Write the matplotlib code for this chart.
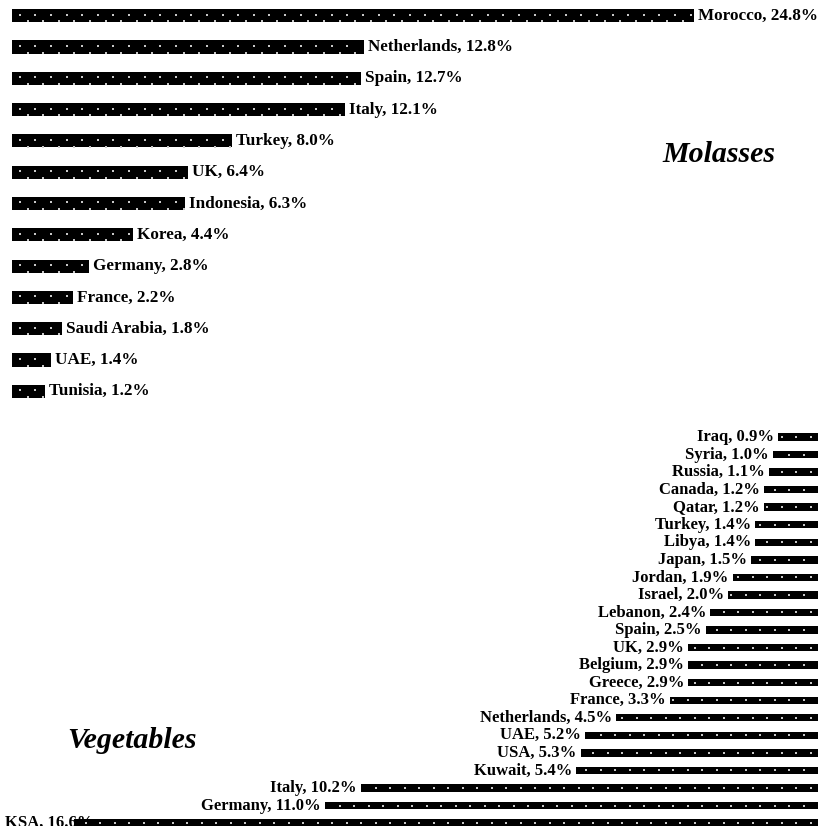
import numpy as np
import matplotlib.pyplot as plt

plt.rcParams["font.family"] = ["Liberation Serif", "DejaVu Serif"]

# molasses: top panel, bars grow to the right
mol_countries = ["Morocco", "Netherlands", "Spain", "Italy", "Turkey", "UK", "Indonesia",
                 "Korea", "Germany", "France", "Saudi Arabia", "UAE", "Tunisia"]
mol_share = [24.8, 12.8, 12.7, 12.1, 8.0, 6.4, 6.3, 4.4, 2.8, 2.2, 1.8, 1.4, 1.2]

# vegetables: bottom panel, bars grow to the left
veg_countries = ["Iraq", "Syria", "Russia", "Canada", "Qatar", "Turkey", "Libya", "Japan",
                 "Jordan", "Israel", "Lebanon", "Spain", "UK", "Belgium", "Greece", "France",
                 "Netherlands", "UAE", "USA", "Kuwait", "Italy", "Germany", "KSA"]
veg_share = [0.9, 1.0, 1.1, 1.2, 1.2, 1.4, 1.4, 1.5, 1.9, 2.0, 2.4, 2.5, 2.9, 2.9, 2.9, 3.3,
             4.5, 5.2, 5.3, 5.4, 10.2, 11.0, 16.6]

W, H = 824, 826
fig = plt.figure(figsize=(W / 100, H / 100), dpi=100)

lab_kw = dict(fontweight="bold", va="center", zorder=0.5)


def dot_fill(ax, pos, vals, height, px_x, rows, step=15.6):
    # sparse light dot texture inside each bar; rows given as fractions of bar height
    dx = step / px_x
    xs, ys = [], []
    for k, (y, v) in enumerate(zip(pos, vals)):
        for j, f in enumerate(rows):
            shift = 0.5 * ((j + k * (len(rows) == 1)) % 2)
            cols = (np.arange(0, v / dx + 1) + 0.5 + shift) * dx
            cols = cols[cols < v - 1.5 / px_x]
            xs.extend(cols)
            ys.extend([y - height / 2 + f * height] * len(cols))
    ax.scatter(xs, ys, s=1.8, marker="s", color="#c8c8c8", linewidths=0, zorder=3)


# ---- top panel ----
ax1 = fig.add_axes([12 / W, 1 - 407 / H, 812 / W, 407 / H])
ypos = list(range(len(mol_countries)))
ax1.barh(ypos, mol_share, height=0.42, color="black", lw=0)
dot_fill(ax1, ypos, mol_share, 0.42, 27.5, [0.42, 0.93])
for y, c, v in zip(ypos, mol_countries, mol_share):
    ax1.annotate(f"{c}, {v}%", (v, y), xytext=(3, 0), textcoords="offset points",
                 ha="left", fontsize=12.3, **lab_kw)
ax1.set_xlim(0, 812 / 27.5)
ax1.set_ylim(len(mol_countries) - 0.5, -0.5)
ax1.axis("off")
fig.text(719 / W, 1 - 155 / H, "Molasses", ha="center", va="center",
         fontsize=21.5, fontstyle="italic", fontweight="bold")

# ---- bottom panel ----
top = 428.2
ht = 23 * 17.55
ax2 = fig.add_axes([0, 1 - (top + ht) / H, 818 / W, ht / H])
ypos = list(range(len(veg_countries)))
ax2.barh(ypos, veg_share, height=0.42, color="black", lw=0)
dot_fill(ax2, ypos, veg_share, 0.42, 44.8, [0.5], step=14.5)
xmax = 818 / 44.8
for y, c, v in zip(ypos, veg_countries, veg_share):
    txt = f"{c}, {v}%"
    if v > 14:
        # label does not fit left of the bar, sits at the edge under the bar
        ax2.text(5 / 818, y, txt, transform=ax2.get_yaxis_transform(), ha="left",
                 fontsize=12, **lab_kw)
    else:
        ax2.annotate(txt, (v, y), xytext=(-3, 0), textcoords="offset points",
                     ha="right", fontsize=12, **lab_kw)
ax2.set_xlim(xmax, 0)
ax2.set_ylim(len(veg_countries) - 0.5, -0.5)
ax2.axis("off")
fig.text(132 / W, 1 - 740 / H, "Vegetables", ha="center", va="center",
         fontsize=21.5, fontstyle="italic", fontweight="bold")

fig.savefig("out.png", dpi=100)
